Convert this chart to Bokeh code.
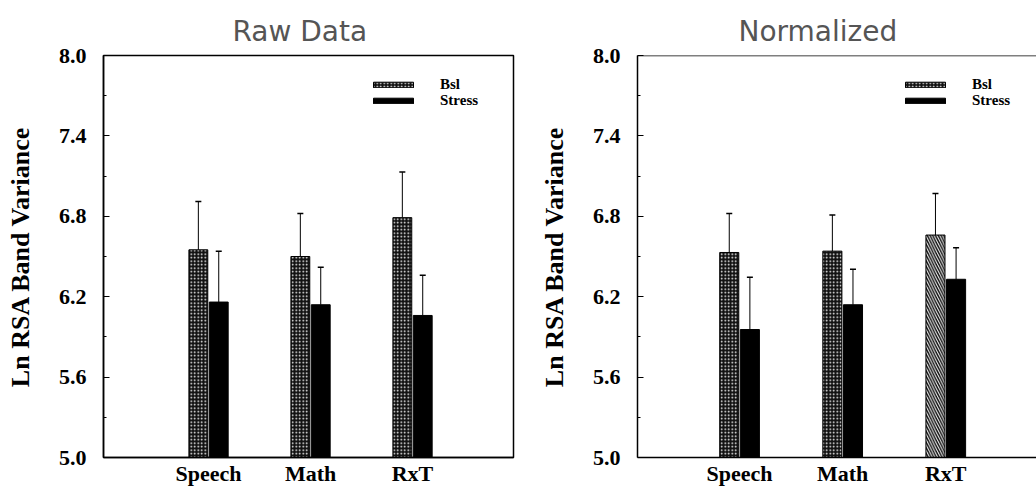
from bokeh.plotting import figure
from bokeh.models import (ColumnDataSource, Whisker, TeeHead, FixedTicker, Legend,
                          LegendItem, Span, NumeralTickFormatter, Range1d, Title)
from bokeh.layouts import row
from bokeh.embed import file_html
from bokeh.resources import INLINE

# ---------------- data ----------------
categories = ["Speech", "Math", "RxT"]
series = ["Bsl", "Stress"]

raw_bsl = [6.55, 6.50, 6.79]
raw_bsl_err = [0.36, 0.32, 0.34]
raw_stress = [6.16, 6.14, 6.06]
raw_stress_err = [0.38, 0.28, 0.30]

norm_bsl = [6.53, 6.54, 6.66]
norm_bsl_err = [0.29, 0.27, 0.31]
norm_stress = [5.955, 6.14, 6.33]
norm_stress_err = [0.39, 0.265, 0.235]

y_ticks = [5.0, 5.6, 6.2, 6.8, 7.4, 8.0]
y_minor_ticks = [5.3, 5.9, 6.5, 7.1, 7.7]
titles = ["Raw Data", "Normalized"]
y_label = "Ln RSA Band Variance"

SERIF = "Liberation Serif"

# hatch styles per bar (pattern, scale)
DOT = ("dot", 3.5)
DIAG = ("left_diagonal_line", 5.5)


def make_legend(label, renderer, x, y):
    return Legend(items=[LegendItem(label=label, renderers=[renderer])],
                  location=(x, y), glyph_width=50, glyph_height=7,
                  label_height=14, label_width=20, label_standoff=22, spacing=0,
                  padding=0, margin=0, border_line_color=None,
                  background_fill_alpha=0,
                  label_text_font=SERIF, label_text_font_style="bold",
                  label_text_font_size="15px", label_text_baseline="middle",
                  label_text_color="black")


def make_panel(title, bsl, bsl_err, stress, stress_err, x_range, width,
               border_left, border_right, full_outline, title_offset, legend_x,
               bsl_styles):
    p = figure(width=width, height=488, output_backend="svg", toolbar_location=None,
               x_range=Range1d(*x_range), y_range=Range1d(y_ticks[0], y_ticks[-1]),
               min_border_left=border_left, min_border_right=border_right,
               min_border_top=55, min_border_bottom=31,
               background_fill_color="white", border_fill_color="white")
    p.xgrid.visible = False
    p.ygrid.visible = False
    if full_outline:
        p.outline_line_color = "black"
        p.outline_line_width = 1.5
    else:
        p.outline_line_color = None
        p.add_layout(Span(location=y_ticks[-1], dimension="width",
                          line_color="black", line_width=1.5))

    p.title = Title(text=title, align="left", offset=title_offset,
                    text_font="DejaVu Sans", text_font_size="28px",
                    text_font_style="normal", text_color="#555555", standoff=16)

    idx = list(range(1, len(categories) + 1))
    xb = [i - 0.1 for i in idx]
    xs = [i + 0.1 for i in idx]

    src_b = ColumnDataSource(dict(x=xb, top=bsl, up=[v + e for v, e in zip(bsl, bsl_err)],
                                  hatch=[s[0] for s in bsl_styles],
                                  hscale=[s[1] for s in bsl_styles]))
    src_s = ColumnDataSource(dict(x=xs, top=stress, up=[v + e for v, e in zip(stress, stress_err)]))

    rb = p.vbar(x="x", top="top", bottom=y_ticks[0], width=0.185, source=src_b,
                fill_color="#111111", line_color="black", line_width=1,
                hatch_pattern="hatch", hatch_color="white", hatch_scale="hscale",
                hatch_weight=1.0)
    rs = p.vbar(x="x", top="top", bottom=y_ticks[0], width=0.185, source=src_s,
                fill_color="black", line_color="black", line_width=1)

    for src in (src_b, src_s):
        w = Whisker(base="x", lower="top", upper="up", source=src, dimension="height",
                    line_color="black", line_width=1,
                    upper_head=TeeHead(size=6, line_width=1.5, line_color="black"),
                    lower_head=None)
        p.add_layout(w)

    # y axis
    p.yaxis.ticker = FixedTicker(ticks=y_ticks, minor_ticks=y_minor_ticks)
    p.yaxis.formatter = NumeralTickFormatter(format="0.0")
    p.yaxis.major_tick_in = 6
    p.yaxis.major_tick_out = 0
    p.yaxis.minor_tick_in = 3
    p.yaxis.minor_tick_out = 0
    p.yaxis.axis_line_width = 1.5
    p.yaxis.major_label_standoff = 17
    p.yaxis.major_label_text_font = SERIF
    p.yaxis.major_label_text_font_style = "bold"
    p.yaxis.major_label_text_font_size = "22px"
    p.yaxis.major_label_text_color = "black"
    p.yaxis.axis_label = y_label
    p.yaxis.axis_label_text_font = SERIF
    p.yaxis.axis_label_text_font_style = "bold"
    p.yaxis.axis_label_text_font_size = "26px"
    p.yaxis.axis_label_text_color = "black"
    p.yaxis.axis_label_standoff = 21

    # x axis
    p.xaxis.ticker = FixedTicker(ticks=idx)
    p.xaxis.major_label_overrides = {i: c for i, c in zip(idx, categories)}
    p.xaxis.major_tick_line_color = None
    p.xaxis.minor_tick_line_color = None
    p.xaxis.major_tick_out = 0
    p.xaxis.major_tick_in = 0
    p.xaxis.minor_tick_out = 0
    p.xaxis.minor_tick_in = 0
    p.xaxis.axis_line_width = 1.5
    p.xaxis.major_label_standoff = 3
    p.xaxis.major_label_text_font = SERIF
    p.xaxis.major_label_text_font_style = "bold"
    p.xaxis.major_label_text_font_size = "22px"
    p.xaxis.major_label_text_color = "black"

    p.add_layout(make_legend(series[0], rb, legend_x, 364))
    p.add_layout(make_legend(series[1], rs, legend_x, 348))
    return p


p1 = make_panel(titles[0], raw_bsl, raw_bsl_err, raw_stress, raw_stress_err,
                (-0.03, 3.99), 520, 103, 7, True, 129, 265,
                [DOT, DOT, DOT])
p2 = make_panel(titles[1], norm_bsl, norm_bsl_err, norm_stress, norm_stress_err,
                (0.01, 3.88), 516, 117, 0, False, 101, 263,
                [DOT, DOT, DIAG])

layout = row(p1, p2)
open("out.html", "w").write(file_html(layout, INLINE))
